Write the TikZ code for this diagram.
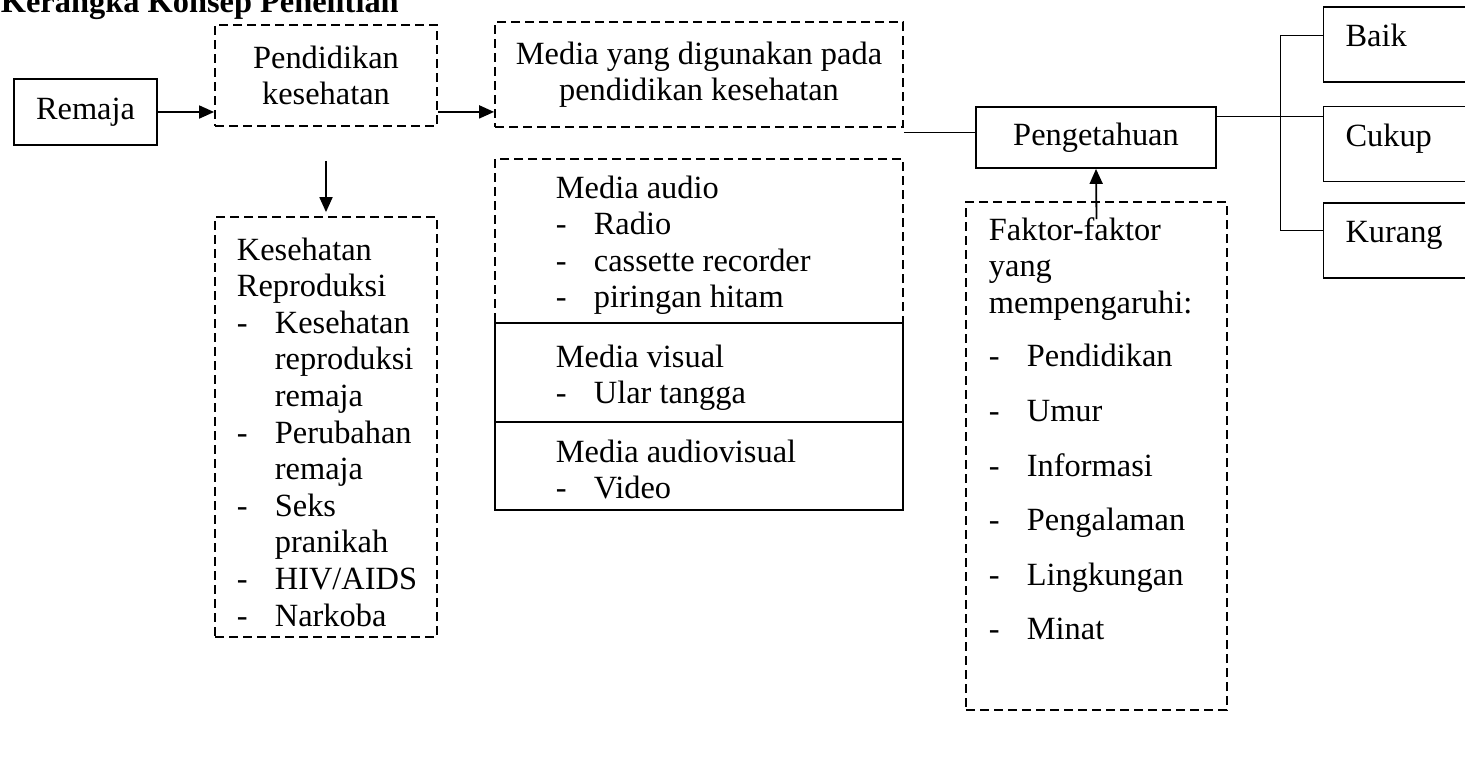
\documentclass[tikz,border=0pt]{standalone}
\usepackage{fontspec}
\setmainfont{Liberation Serif}
\usetikzlibrary{arrows.meta,calc}
\newcommand{\bodyfont}{\fontsize{16.2}{18.3}\selectfont}

\begin{document}
\begin{tikzpicture}[
    x=0.5pt, y=-0.5pt,
    box/.style={rectangle, draw, line width=0.9pt, font=\bodyfont, align=center, inner sep=0pt},
    dbox/.style={box, dash pattern=on 4.5pt off 2.5pt},
    result/.style={box, minimum height=37.5pt, text width=56pt, inner xsep=11pt, align=left, text height=12pt, text depth=10pt},
    list/.style={anchor=base west, inner sep=0pt, font=\bodyfont},
    link/.style={line width=0.5pt},
    >={Triangle[length=7.5pt,width=6.5pt]}, line width=0.9pt
]
    \useasboundingbox (0,0) rectangle (1465,768);

    % Judul
    \node[font=\bodyfont\bfseries, anchor=base west, inner sep=0pt] (title) at (0,12) {Kerangka Konsep Penelitian};

    % Alur utama
    \node[box, minimum width=71.5pt, minimum height=33pt] (remaja) at (85.5,112) {Remaja};
    \node[dbox, minimum width=111pt, minimum height=50.5pt] (pend) at (326,75.5) {Pendidikan\\kesehatan};
    \node[dbox, minimum width=204pt, minimum height=52.5pt] (media) at (699,74.5) {Media yang digunakan pada\\pendidikan kesehatan};
    \node[box, minimum width=120pt, minimum height=30.5pt] (peng) at (1096,137.5) {Pengetahuan};
    \node[result] (baik) at (1401.5,44.5) {Baik};
    \node[result] (cukup) at (1401.5,144) {Cukup};
    \node[result] (kurang) at (1401.5,240.5) {Kurang};

    % Kesehatan reproduksi
    \node[dbox, minimum width=111pt, minimum height=210pt] (kes) at (326,427) {};
    \node[list] (kestext) at (236,260) {\begin{tabular}[t]{@{}p{19pt}@{}l@{}}
        \multicolumn{2}{@{}l@{}}{Kesehatan}\\
        \multicolumn{2}{@{}l@{}}{Reproduksi}\\
        - & Kesehatan\\ & reproduksi\\ & remaja\\
        - & Perubahan\\ & remaja\\
        - & Seks\\ & pranikah\\
        - & HIV/AIDS\\
        - & Narkoba
    \end{tabular}};

    % Media
    \node[dbox, minimum width=204pt, minimum height=82pt] (audio) at (699,241) {};
    \node[box, minimum width=204pt, minimum height=49.5pt] (visual) at (699,372.5) {};
    \node[box, minimum width=204pt, minimum height=44pt] (audiovis) at (699,466) {};
    \node[list] (audiotext) at (555,198) {\begin{tabular}[t]{@{}p{19pt}@{}l@{}}
        \multicolumn{2}{@{}l@{}}{Media audio}\\
        - & Radio\\ - & cassette recorder\\ - & piringan hitam
    \end{tabular}};
    \node[list] (visualtext) at (555,367) {\begin{tabular}[t]{@{}p{19pt}@{}l@{}}
        \multicolumn{2}{@{}l@{}}{Media visual}\\
        - & Ular tangga
    \end{tabular}};
    \node[list] (avtext) at (555,462) {\begin{tabular}[t]{@{}p{19pt}@{}l@{}}
        \multicolumn{2}{@{}l@{}}{Media audiovisual}\\
        - & Video
    \end{tabular}};

    % Faktor
    \node[dbox, minimum width=130.5pt, minimum height=254pt] (faktor) at (1096.5,456) {};
    \node[list] (faktortext) at (988,240) {\begin{tabular}[t]{@{}p{19pt}@{}l@{}}
        \multicolumn{2}{@{}l@{}}{Faktor-faktor}\\
        \multicolumn{2}{@{}l@{}}{yang}\\
        \multicolumn{2}{@{}l@{}}{mempengaruhi:}\\[8.5pt]
        - & Pendidikan\\[9pt]
        - & Umur\\[9pt]
        - & Informasi\\[9pt]
        - & Pengalaman\\[9pt]
        - & Lingkungan\\[9pt]
        - & Minat
    \end{tabular}};

    % Penghubung
    \draw[->] (remaja.east) -- (remaja.east -| pend.west);
    \draw[->] ([yshift=7.5pt]pend.south east) -- ([yshift=7.5pt]pend.south east -| media.west);
    \draw[->] ([yshift=-17pt]pend.south) -- ([yshift=2pt]kes.north);
    \draw[link] ([yshift=-2.5pt]media.south east) -- ([yshift=-2.5pt]media.south east -| peng.west);
    \draw[->] ([yshift=-9pt]faktor.north) -- (peng.south);
    \coordinate (fork) at (1280,116);
    \draw[link] ([yshift=10.75pt]peng.east) -- ([yshift=10.75pt]peng.east -| cukup.west);
    \draw[link] ([yshift=4.75pt]baik.west) -| (fork) |- ([yshift=5.25pt]kurang.west);
\end{tikzpicture}
\end{document}
